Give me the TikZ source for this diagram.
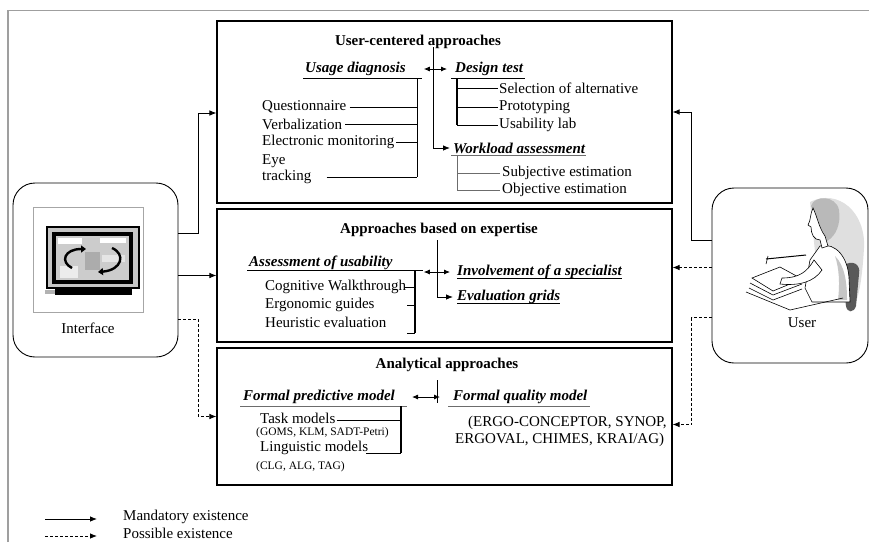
\documentclass[tikz,border=0pt]{standalone}
\usepackage{fontspec}
\setmainfont{Liberation Serif}
\usetikzlibrary{arrows.meta,calc}
\begin{document}
\begin{tikzpicture}[x=1pt,y=-1pt,
  txt/.style={inner sep=0pt,anchor=west,font=\fontsize{15}{17}\selectfont},
  head/.style={inner sep=0pt,font=\fontsize{15}{17}\selectfont\bfseries},
  sub/.style={inner sep=0pt,anchor=west,font=\fontsize{15}{17}\selectfont\bfseries\itshape},
  small/.style={inner sep=0pt,anchor=west,font=\fontsize{11.5}{13}\selectfont},
  panel/.style={draw,line width=1.1pt,minimum width=455pt,minimum height=#1,inner sep=0pt},
  roundbox/.style={draw,line width=0.9pt,rounded corners=22pt,inner sep=0pt},
  mand/.style={line width=0.8pt,-{Latex[length=7pt,width=5.5pt]}},
  poss/.style={line width=0.8pt,dash pattern=on 3pt off 2pt,-{Latex[length=7pt,width=5.5pt]}},
  dbl/.style={line width=0.8pt,{Latex[length=6pt,width=5pt]}-{Latex[length=6pt,width=5pt]}},
  rule/.style={line width=0.8pt},
  thickrule/.style={line width=1.6pt},
  greyrule/.style={line width=0.9pt,draw=gray!85!black},
  frame/.style={line width=1.8pt,draw=gray!75},
  ink/.style={draw=black,line width=0.6pt}]
\useasboundingbox (0,0) rectangle (869,542);

% outer frame
\draw[frame] (8,542) -- (8,10.5) -- (869,10.5);

% the three families of evaluation approaches
\node[panel=182pt] (box1) at (444.5,112) {};
\node[panel=133pt] (box2) at (444.5,275.5) {};
\node[panel=137pt] (box3) at (444.5,416.5) {};

% interface and user
\node[roundbox,minimum width=165pt,minimum height=174pt] (iface) at (95.5,270) {};
\node[roundbox,minimum width=156pt,minimum height=175pt] (user) at (790,275.5) {};
\node[txt,anchor=center] (ilabel) at (88,328) {Interface};
\node[txt,anchor=center] (ulabel) at (802,323) {User};

% monitor icon
\draw[gray!70,line width=0.8pt] (33,207) rectangle (143,312);
\filldraw[fill=gray!45,draw=black,line width=1.2pt] (47,227) rectangle (139,288);
\fill[black] (52,232) rectangle (133,284);
\fill[gray!40] (56,236) rectangle (129,280);
\fill[white] (58,238) rectangle (82,244);
\fill[white] (100,238) rectangle (126,243);
\fill[gray!15] (60,266) rectangle (78,278);
\fill[gray!20] (102,255) rectangle (125,262);
\fill[gray!65] (85,252) rectangle (100,270);
\draw[line width=2.4pt,-{Triangle[length=5pt,width=7pt]}] (72,268) .. controls (60,262) and (64,249) .. (86,249);
\draw[line width=2.4pt,-{Triangle[length=5pt,width=7pt]}] (112,248) .. controls (126,254) and (122,270) .. (98,272);
\fill[black] (55,289) rectangle (132,295);
\fill[gray!60] (45,290) rectangle (55,294);

% seated user clip art
\fill[gray!25] (810,202) .. controls (838,188) and (866,212) .. (864,248) .. controls (862,282) and (858,305) .. (850,312) -- (815,252) -- cycle;
\fill[gray!70!black] (843,266) .. controls (852,259) and (861,264) .. (859,274) -- (856,306) .. controls (854,313) and (847,313) .. (846,306) -- cycle;
\filldraw[fill=white,ink] (820,246) .. controls (836,242) and (848,258) .. (849,278) -- (850,302) -- (812,302) -- (805,288) -- (810,260) -- cycle;
\fill[gray!45] (835,256) .. controls (845,266) and (847,283) .. (847,300) -- (838,300) .. controls (840,283) and (839,268) .. (835,256) -- cycle;
\draw[line width=1pt] (766,259) -- (806,255);
\draw[ink] (768,256) -- (766,264);
\filldraw[fill=white,ink] (752,278) -- (780,267) -- (802,279) -- (773,291) -- cycle;
\draw[ink] (750,283) -- (773,295) -- (802,284);
\draw[ink] (749,288) -- (773,300) -- (802,289);
\draw[ink] (746,292) -- (790,310) -- (843,298);
\filldraw[fill=white,ink] (814,260) .. controls (807,272) and (799,278) .. (782,278) -- (780,284) .. controls (799,286) and (814,282) .. (822,270) -- cycle;
\fill[gray!55] (811,206) .. controls (814,195) and (836,195) .. (839,210) .. controls (841,224) and (836,236) .. (827,241) -- (821,228) -- cycle;
\filldraw[fill=white,ink] (813,208) .. controls (810,214) and (811,220) .. (808,225) -- (811,227) .. controls (811,234) and (814,240) .. (820,240) -- (822,248) -- (828,246) -- (825,236) .. controls (819,228) and (817,216) .. (813,208) -- cycle;

% ---------- user-centered approaches ----------
\node[head] (t1) at (418,42) {User-centered approaches};
\node[sub] (ud) at (305,69) {Usage diagnosis};
\node[sub] (dt) at (455,69) {Design test};
\node[sub] (wa) at (453,148) {Workload assessment};
\draw[dbl] ([xshift=18pt]ud.east) -- ([xshift=-8pt]dt.west);
\coordinate (v1) at (433,47);
\draw[mand] (v1) |- ([xshift=-3pt]wa.west);

\coordinate (udbarT) at (417,78);
\coordinate (udbarB) at (417,177);
\draw[rule] ([xshift=-2pt]ud.west |- udbarT) -- ([xshift=5pt]udbarT);
\draw[rule] (udbarT) -- (udbarB);
\node[txt] (q) at (262,107) {Questionnaire};
\node[txt] (vb) at (262,124) {Verbalization};
\node[txt] (em) at (262,142) {Electronic monitoring};
\node[txt] (eye) at (262,161) {Eye};
\node[txt] (tr) at (262,177) {tracking};
\draw[rule] ([xshift=3pt]q.east) -- (q.east -| udbarT);
\draw[rule] ([xshift=3pt]vb.east) -- (vb.east -| udbarT);
\draw[rule] ([xshift=2pt]em.east) -- (em.east -| udbarT);
\draw[rule] ([xshift=15pt]tr.east) -- (udbarB);

\coordinate (dtbarT) at (457,78);
\coordinate (dtbarB) at (457,125);
\draw[rule] ([xshift=-6pt]dtbarT) -- ([xshift=2pt]dt.east |- dtbarT);
\draw[thickrule] (dtbarT) -- (dtbarB);
\node[txt] (sel) at (499,88) {Selection of alternative};
\node[txt] (pro) at (499,107) {Prototyping};
\node[txt] (ul) at (499,125) {Usability lab};
\draw[rule] (sel.west -| dtbarT) -- ([xshift=-1pt]sel.west);
\draw[rule] (pro.west -| dtbarT) -- ([xshift=-1pt]pro.west);
\draw[rule] (dtbarB) -- ([xshift=-1pt]ul.west);

\coordinate (wabarT) at (457,155);
\draw[greyrule] ([xshift=-6pt]wabarT) -- ([xshift=1pt]wa.east |- wabarT);
\node[txt] (se) at (502,173) {Subjective estimation};
\node[txt] (oe) at (502,190) {Objective estimation};
\draw[greyrule] (wabarT) -- (oe.west -| wabarT) -- ([xshift=-2pt]oe.west);
\draw[greyrule] (se.west -| wabarT) -- ([xshift=-2pt]se.west);

% ---------- approaches based on expertise ----------
\node[head] (t2) at (439,230) {Approaches based on expertise};
\node[sub] (au) at (249,263) {Assessment of usability};
\node[sub] (iv) at (457,272) {Involvement of a specialist};
\node[sub] (eg) at (457,297) {Evaluation grids};
\draw[rule] ([yshift=-2.5pt]iv.base west) -- ([yshift=-2.5pt]iv.base east);
\draw[rule] ([yshift=-2.5pt]eg.base west) -- ([yshift=-2.5pt]eg.base east);
\draw[dbl] ([xshift=31pt]au.east |- iv.west) -- ([xshift=-7pt]iv.west);
\coordinate (v2) at (437,240);
\draw[mand] (v2) |- ([xshift=-4pt]eg.west);

\coordinate (aubarT) at (415,270);
\coordinate (aubarB) at (415,333);
\draw[rule] ([xshift=-2pt]au.west |- aubarT) -- ([xshift=8pt]aubarT);
\draw[thickrule] (aubarT) -- (aubarB);
\node[txt] (cw) at (265,287) {Cognitive Walkthrough};
\node[txt] (eg2) at (265,305) {Ergonomic guides};
\node[txt] (he) at (265,322) {Heuristic evaluation};
\draw[rule] ([xshift=-1pt]cw.east) -- (cw.east -| aubarT);
\draw[rule] ([xshift=1pt]eg2.east -| cw.east) -- (eg2.east -| aubarT);
\draw[rule] ([xshift=1pt]cw.east |- aubarB) -- (aubarB);

% ---------- analytical approaches ----------
\node[head] (t3) at (447,365) {Analytical approaches};
\node[sub] (fpm) at (243,397) {Formal predictive model};
\node[sub] (fqm) at (453,397) {Formal quality model};
\coordinate (v3a) at (437,380);
\coordinate (v3b) at (437,403);
\draw[rule] (v3a) -- (v3b);
\draw[dbl] ([xshift=17pt]fpm.east) -- ([xshift=-13pt]fqm.west);

\coordinate (fpbarT) at (401,406);
\coordinate (fpbarB) at (401,453);
\draw[greyrule] ([xshift=-3pt]fpm.west |- fpbarT) -- ([xshift=6pt]fpbarT);
\draw[greyrule] ([xshift=-5pt]fqm.west |- fpbarT) -- ([xshift=2pt]fqm.east |- fpbarT);
\draw[thickrule] (fpbarT) -- (fpbarB);
\node[txt] (tm) at (260,418) {Task models};
\node[small] (goms) at (256,433) {(GOMS, KLM, SADT-Petri)};
\node[txt] (lm) at (260,448) {Linguistic models};
\node[small] (clg) at (256,467) {(CLG, ALG, TAG)};
\draw[rule] ([xshift=1pt,yshift=-2pt]tm.east) -- ([yshift=-2pt]tm.east -| fpbarT);
\draw[rule] ([xshift=-2pt]lm.east |- fpbarB) -- (fpbarB);
\node[txt] (erg1) at (468,423) {(ERGO-CONCEPTOR, SYNOP,};
\node[txt] (erg2) at (455,440) {ERGOVAL, CHIMES, KRAI/AG)};

% ---------- connectors ----------
\draw[mand] ([yshift=37pt]iface.east) -- ++(20,0) |- ([yshift=-1pt]box1.west);
\draw[mand] (iface.east |- box2.west) -- (box2.west);
\draw[poss] ([yshift=-49pt]iface.east) -- ++(20,0) |- (box3.west);
\draw[mand] ([yshift=35pt]user.west) -- ++(-20,0) |- (box1.east);
\draw[poss] ([yshift=8pt]user.west) -- ([yshift=8pt]box2.east);
\draw[poss] ([yshift=-42pt]user.west) -- ++(-20,0) |- ([yshift=-8pt]box3.east);

% ---------- legend ----------
\coordinate (la) at (45,519);
\coordinate (lb) at (97,519);
\coordinate (lc) at (45,536);
\coordinate (ld) at (97,536);
\draw[mand] (la) -- (lb);
\draw[poss] (lc) -- (ld);
\node[txt] (lm1) at (123,517) {Mandatory existence};
\node[txt] (lm2) at (123,533) {Possible existence};
\end{tikzpicture}
\end{document}
